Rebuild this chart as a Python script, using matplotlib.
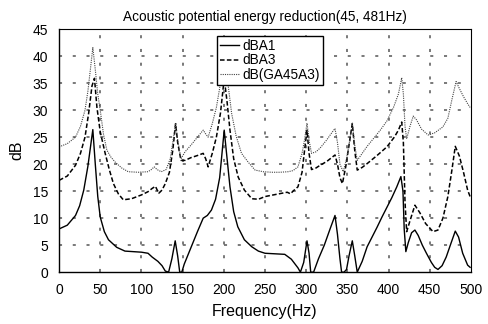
import matplotlib
matplotlib.use("Agg")
import matplotlib.pyplot as plt

plt.rcParams["font.family"] = ["Liberation Sans", "DejaVu Sans"]

# dBA1 - solid curve
freq_a1 = [0, 10, 20, 25, 30, 35, 38, 41, 44, 47, 50, 55, 60, 70, 80, 90, 100,
           108, 113, 120, 125, 129, 133, 137, 141, 144, 146.5, 149, 152, 160,
           168, 175, 180, 185, 190, 195, 200.5, 204, 207.5, 212, 217, 225, 234,
           242, 250, 262, 274, 282, 290, 293, 297, 301, 303.5, 305.5, 309, 315,
           322, 329, 335, 338, 341, 343, 346, 349, 352, 356, 359, 362, 368, 374,
           380, 386, 392, 398, 404, 410, 415, 417.5, 419, 421, 424, 428, 432,
           436, 441, 446, 452, 456, 460, 465, 470, 475, 481, 485, 490, 496, 499]
db_a1 = [8.0, 8.7, 10.5, 12.3, 15.2, 19.6, 23.0, 26.4, 20.0, 14.0, 10.2, 7.5, 6.0,
         4.6, 3.9, 3.8, 3.7, 3.5, 2.8, 2.0, 1.2, 0.2, 0.0, 2.5, 5.8, 3.0, 0.0,
         0.0, 1.5, 4.5, 7.5, 10.0, 10.5, 11.5, 13.5, 17.5, 26.3, 21.0, 15.8,
         11.2, 8.4, 6.0, 4.7, 3.9, 3.5, 3.4, 3.3, 2.4, 0.8, 0.0, 1.8, 5.8, 3.5,
         0.0, 0.0, 2.5, 5.0, 8.0, 10.5, 7.0, 2.5, 0.0, 0.0, 0.5, 3.0, 5.8, 3.0,
         0.0, 2.0, 4.7, 6.5, 8.3, 10.2, 12.0, 13.8, 15.8, 17.7, 15.0, 8.0, 3.8,
         5.5, 7.3, 7.8, 6.8, 5.0, 3.5, 1.8, 0.9, 0.5, 1.2, 2.8, 5.0, 7.6, 6.5,
         3.5, 1.3, 0.9]

# dBA3 - dashed curve
freq_a3 = [0, 10, 20, 26, 31.5, 36, 40, 43, 46, 50, 56, 61, 66, 72, 78, 88,
           100, 108, 113, 117, 121, 125, 129, 134, 138, 141.5, 144, 148, 153,
           160, 168, 175, 178, 181, 186, 191, 196, 200.5, 204, 207.5, 212,
           217.5, 225, 234, 242, 250, 260, 270, 277, 281, 284, 290, 295, 298,
           301, 303.5, 306.5, 312, 317, 325, 335, 338, 341, 344, 348, 352, 356,
           359, 362, 368, 374, 386, 398, 407, 412, 416, 418, 420, 422, 426, 432,
           438, 445, 454, 460, 466, 472, 477, 481, 486, 491, 496, 499]
db_a3 = [17.0, 17.8, 19.8, 22.0, 25.0, 29.5, 34.5, 35.9, 30.5, 26.0, 22.0, 19.0,
         16.4, 14.5, 13.4, 13.6, 14.3, 14.9, 15.5, 15.9, 14.6, 15.2, 16.4, 18.5,
         22.5, 27.5, 24.0, 20.7, 20.7, 21.2, 21.6, 22.0, 21.0, 19.5, 22.0, 25.0,
         29.5, 35.9, 31.5, 26.3, 21.0, 17.6, 15.2, 13.6, 13.5, 14.0, 14.3, 14.6,
         14.8, 14.5, 15.0, 15.8, 18.5, 22.5, 26.3, 22.0, 19.0, 19.3, 19.8, 20.5,
         21.7, 20.0, 17.5, 16.4, 19.5, 23.5, 27.5, 22.5, 18.9, 19.4, 20.1, 21.6,
         23.2, 25.0, 26.3, 27.8, 24.0, 13.0, 7.5, 9.5, 12.4, 11.0, 9.0, 7.5,
         7.8, 10.0, 14.0, 19.0, 23.3, 21.5, 18.5, 15.2, 14.0]

# dB(GA45A3) - dotted curve
freq_ga = [0, 10, 20, 26, 31.5, 35, 38, 41, 44, 47, 50, 54, 58, 63, 68, 76, 84,
           96, 108, 112, 115.5, 119, 124, 130, 135, 139, 141.5, 144, 148, 153,
           160, 168, 175, 178, 181, 186, 191, 196, 200.5, 205, 209.5, 215,
           221.5, 230, 238, 248, 258, 268, 278, 284, 290, 295, 298, 301, 304,
           306.5, 312, 317, 325, 331, 335, 338, 341, 345, 349, 353, 356, 359,
           362, 368, 374, 382, 390, 398, 406, 412, 416, 418, 420, 422, 426, 430,
           434, 440, 448, 456, 466, 472, 477, 482, 486, 491, 496, 499]
db_ga = [23.2, 23.8, 25.0, 27.0, 30.0, 33.5, 37.5, 41.6, 37.5, 33.0, 30.0,
         25.5, 22.6, 21.3, 20.4, 19.3, 18.6, 18.5, 18.6, 19.0, 19.5, 19.0, 18.6,
         19.0, 21.0, 25.0, 27.6, 24.5, 21.0, 22.3, 23.5, 25.0, 26.3, 25.6, 25.0,
         27.5, 30.5, 35.0, 41.6, 35.0, 29.4, 25.2, 22.0, 20.3, 18.9, 18.6, 18.5,
         18.5, 18.6, 18.8, 19.5, 22.0, 24.5, 27.6, 24.0, 22.0, 22.3, 23.0, 24.5,
         25.8, 26.6, 24.0, 20.0, 18.6, 21.0, 24.5, 27.6, 23.5, 20.7, 22.0, 23.3,
         24.8, 26.3, 28.0, 30.5, 33.0, 36.0, 33.0, 27.0, 24.7, 27.0, 28.9, 28.2,
         26.5, 25.4, 25.8, 26.9, 28.5, 32.0, 35.3, 34.0, 32.5, 31.2, 30.5]

x_ticks = list(range(0, 501, 50))
y_ticks = list(range(0, 46, 5))

fig = plt.figure(figsize=(4.88, 3.24), dpi=100)
ax = fig.add_axes([0.121, 0.160, 0.844, 0.750])

ax.plot(freq_a1, db_a1, color="black", linewidth=1.0, linestyle="-", label="dBA1")
ax.plot(freq_a3, db_a3, color="black", linewidth=1.1, linestyle=(0, (3, 1.5)), label="dBA3")
ax.plot(freq_ga, db_ga, color="#444444", linewidth=0.8, linestyle=(0, (1, 1)), label="dB(GA45A3)")

ax.set_xlim(0, 500)
ax.set_ylim(0, 45)
ax.set_xticks(x_ticks)
ax.set_yticks(y_ticks)

# sparse dashed grid, skipped on the frame lines
for x in x_ticks[1:-1]:
    ax.axvline(x, color="#555555", linewidth=1.1, linestyle=(0, (2, 7)), zorder=0)
for y in y_ticks[1:-1]:
    ax.axhline(y, color="#555555", linewidth=1.1, linestyle=(0, (2, 7)), zorder=0)

ax.spines["top"].set_linestyle((0, (1, 1)))
ax.spines["right"].set_linestyle((0, (1, 1)))
ax.spines["top"].set_linewidth(0.8)
ax.spines["right"].set_linewidth(0.8)
ax.spines["left"].set_linewidth(1.0)
ax.spines["bottom"].set_linewidth(1.0)

ax.tick_params(axis="both", length=0, labelsize=10, pad=8)

ax.set_title("Acoustic potential energy reduction(45, 481Hz)", fontsize=9.8, pad=6)
ax.set_xlabel("Frequency(Hz)", fontsize=11.5, labelpad=5)
ax.set_ylabel("dB", fontsize=11.5, labelpad=6)

leg = ax.legend(loc="upper left", bbox_to_anchor=(0.383, 0.972), fontsize=9.8,
                frameon=True, fancybox=False, borderpad=0.2, labelspacing=0.05,
                handlelength=1.4, handletextpad=0.3, borderaxespad=0)
leg.get_frame().set_edgecolor("black")
leg.get_frame().set_linewidth(1.0)
leg.get_frame().set_alpha(1.0)

fig.savefig("out.png", dpi=100)
